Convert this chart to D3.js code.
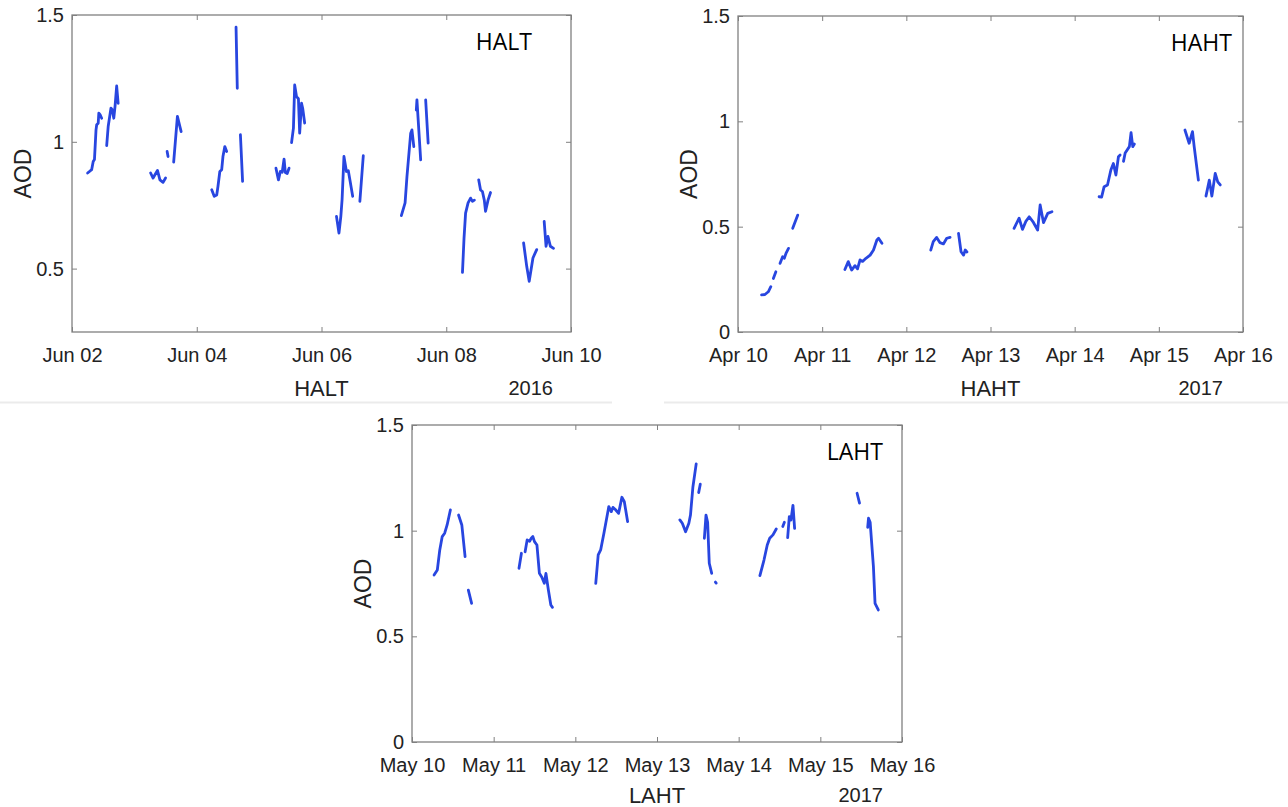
<!DOCTYPE html>
<html>
<head>
<meta charset="utf-8">
<script src="https://cdn.jsdelivr.net/npm/d3@7"></script>
<style>
  html, body { margin: 0; padding: 0; background: #fff; }
  svg { display: block; }
  .tick text { font-family: "Liberation Sans", Arial, sans-serif; font-size: 20px; fill: #222; }
  .tick line { stroke: #808080; }
</style>
</head>
<body>
<div id="chart"></div>
<script>
// AOD readings, day-of-month (with fraction) and value; each inner array is one unbroken run
const haltSegments = [
  [[2.25,0.877],[2.28,0.883],[2.315,0.89],[2.34,0.922],[2.36,0.93],[2.385,1.047],[2.396,1.067],[2.42,1.073],[2.43,1.113],[2.45,1.107],[2.476,1.093]],
  [[2.556,0.985],[2.58,1.06],[2.625,1.133],[2.646,1.126],[2.67,1.093],[2.69,1.14],[2.716,1.22],[2.74,1.152]],
  [[3.26,0.877],[3.30,0.857],[3.33,0.87],[3.37,0.887],[3.41,0.85],[3.46,0.84],[3.50,0.857]],
  [[3.525,0.962],[3.54,0.942]],
  [[3.63,0.92],[3.69,1.10],[3.73,1.06],[3.75,1.04]],
  [[4.24,0.811],[4.28,0.785],[4.32,0.79],[4.34,0.824],[4.37,0.883],[4.40,0.89],[4.42,0.942],[4.45,0.981],[4.48,0.962]],
  [[4.63,1.452],[4.65,1.211]],
  [[4.70,1.028],[4.735,0.844]],
  [[5.27,0.896],[5.31,0.85],[5.34,0.883],[5.37,0.88],[5.40,0.932],[5.42,0.879],[5.45,0.875],[5.48,0.896]],
  [[5.52,0.997],[5.55,1.054],[5.57,1.224],[5.60,1.178],[5.63,1.17],[5.65,1.034],[5.68,1.152],[5.70,1.13],[5.73,1.074]],
  [[6.24,0.706],[6.28,0.64],[6.31,0.706],[6.33,0.772],[6.36,0.942],[6.40,0.883],[6.43,0.886],[6.455,0.85],[6.50,0.785]],
  [[6.615,0.765],[6.67,0.945]],
  [[7.28,0.709],[7.34,0.759],[7.37,0.863],[7.43,1.034],[7.45,1.047],[7.48,0.981]],
  [[7.52,1.125],[7.53,1.165],[7.59,0.929]],
  [[7.67,1.165],[7.71,0.995]],
  [[8.26,0.485],[8.285,0.62],[8.31,0.719],[8.35,0.759],[8.39,0.778],[8.42,0.765],[8.45,0.77]],
  [[8.52,0.85],[8.55,0.81],[8.58,0.804],[8.61,0.77],[8.63,0.726],[8.67,0.77],[8.71,0.80]],
  [[9.24,0.601],[9.29,0.509],[9.33,0.45],[9.39,0.542],[9.45,0.575]],
  [[9.57,0.686],[9.60,0.588],[9.63,0.627],[9.67,0.588],[9.72,0.58]]
];

const hahtSegments = [
  [[10.28,0.176],[10.32,0.178],[10.36,0.191],[10.39,0.215]],
  [[10.42,0.254],[10.45,0.286]],
  [[10.50,0.326],[10.53,0.357],[10.55,0.35],[10.57,0.373],[10.60,0.397]],
  [[10.65,0.492],[10.71,0.555]],
  [[11.27,0.297],[11.31,0.334],[11.35,0.294],[11.39,0.315],[11.42,0.30],[11.45,0.342],[11.48,0.335],[11.52,0.35],[11.57,0.365],[11.61,0.389],[11.65,0.437],[11.67,0.445],[11.71,0.421]],
  [[12.29,0.389],[12.32,0.429],[12.36,0.449],[12.40,0.424],[12.44,0.418],[12.48,0.445],[12.52,0.449]],
  [[12.62,0.468],[12.65,0.381],[12.68,0.365],[12.70,0.389],[12.72,0.38]],
  [[13.28,0.492],[13.34,0.54],[13.38,0.487],[13.42,0.525],[13.46,0.547],[13.51,0.52],[13.56,0.484],[13.59,0.603],[13.63,0.519],[13.68,0.563],[13.73,0.571]],
  [[14.29,0.642],[14.32,0.64],[14.35,0.69],[14.39,0.698],[14.43,0.769],[14.46,0.80],[14.49,0.745],[14.52,0.832],[14.54,0.84]],
  [[14.58,0.81],[14.60,0.85],[14.65,0.88],[14.67,0.946],[14.69,0.88],[14.71,0.892]],
  [[15.31,0.959],[15.36,0.896],[15.40,0.951],[15.42,0.88],[15.47,0.721]],
  [[15.56,0.645],[15.60,0.721],[15.63,0.645],[15.67,0.753],[15.70,0.713],[15.73,0.698]]
];

const lahtSegments = [
  [[10.27,0.79],[10.31,0.814],[10.34,0.909],[10.37,0.972],[10.40,0.988],[10.43,1.027],[10.47,1.098]],
  [[10.57,1.074],[10.61,1.027],[10.65,0.877]],
  [[10.69,0.719],[10.73,0.656]],
  [[11.31,0.822],[11.34,0.893]],
  [[11.385,0.90],[11.41,0.956],[11.44,0.95],[11.46,0.964],[11.48,0.972],[11.50,0.948],[11.53,0.932],[11.56,0.798],[11.59,0.78],[11.62,0.751],[11.64,0.798],[11.67,0.719],[11.70,0.648],[11.72,0.637]],
  [[12.25,0.751],[12.28,0.885],[12.31,0.909],[12.35,0.988],[12.41,1.114],[12.44,1.09],[12.46,1.11],[12.49,1.10],[12.53,1.082],[12.57,1.158],[12.60,1.137],[12.64,1.043]],
  [[13.28,1.051],[13.31,1.035],[13.35,0.995],[13.39,1.035],[13.41,1.074],[13.44,1.208],[13.48,1.316]],
  [[13.51,1.18],[13.53,1.22]],
  [[13.58,0.964],[13.60,1.074],[13.62,1.04],[13.64,0.846],[13.67,0.798]],
  [[13.715,0.757],[13.725,0.752]],
  [[14.26,0.787],[14.31,0.861],[14.35,0.932],[14.38,0.964],[14.42,0.98],[14.46,1.008]],
  [[14.54,1.02],[14.56,1.04]],
  [[14.60,0.967],[14.62,1.066],[14.64,1.05],[14.665,1.12],[14.685,1.011]],
  [[15.45,1.177],[15.48,1.13]],
  [[15.58,1.016],[15.59,1.059],[15.61,1.04],[15.65,0.83],[15.67,0.656],[15.71,0.625]]
];

// tick days (day of month) and AOD tick values
const haltTickDays = [2, 4, 6, 8, 10];
const hahtTickDays = [10, 11, 12, 13, 14, 15, 16];
const lahtTickDays = [10, 11, 12, 13, 14, 15, 16];
const haltYTicks = [0.5, 1, 1.5];
const hahtYTicks = [0, 0.5, 1, 1.5];
const lahtYTicks = [0, 0.5, 1, 1.5];

const panels = [
  { name: "HALT", year: 2016, month: 5, segs: haltSegments, xTicks: haltTickDays, yTicks: haltYTicks,
    yDomain: [0.25, 1.5], left: 72, top: 15, right: 571, bottom: 332, tagRight: 532, yearGap: 18 },
  { name: "HAHT", year: 2017, month: 3, segs: hahtSegments, xTicks: hahtTickDays, yTicks: hahtYTicks,
    yDomain: [0, 1.5], left: 738, top: 16, right: 1243, bottom: 332, tagRight: 1232, yearGap: 20 },
  { name: "LAHT", year: 2017, month: 4, segs: lahtSegments, xTicks: lahtTickDays, yTicks: lahtYTicks,
    yDomain: [0, 1.5], left: 412, top: 425, right: 902, bottom: 742, tagRight: 883, yearGap: 19 }
];

const W = 1288, H = 807;
const axisFont = '"Liberation Sans", Arial, sans-serif';
const lineColor = "#2846e0";
const boxColor = "#808080";

const svg = d3.select("#chart").append("svg")
  .attr("width", W)
  .attr("height", H)
  .style("background", "#fff");

// faint rules left over under the top two pictures
svg.append("line").attr("x1", 0).attr("x2", 612).attr("y1", 402.5).attr("y2", 402.5)
  .attr("stroke", "#ebebeb").attr("stroke-width", 2);
svg.append("line").attr("x1", 664).attr("x2", W).attr("y1", 402.5).attr("y2", 402.5)
  .attr("stroke", "#ebebeb").attr("stroke-width", 2);

panels.forEach(p => {
  const toDate = d => new Date(Date.UTC(p.year, p.month, 0) + d * 864e5);

  const x = d3.scaleUtc()
    .domain([toDate(p.xTicks[0]), toDate(p.xTicks[p.xTicks.length - 1])])
    .range([p.left, p.right]);
  const y = d3.scaleLinear().domain(p.yDomain).range([p.bottom, p.top]);

  const g = svg.append("g");
  const tickDates = p.xTicks.map(toDate);

  const gx = g.append("g").attr("transform", `translate(0,${p.bottom})`)
    .call(d3.axisBottom(x).tickValues(tickDates).tickFormat(d3.utcFormat("%b %d"))
      .tickSize(-5).tickSizeOuter(0).tickPadding(16));
  const gxt = g.append("g").attr("transform", `translate(0,${p.top})`)
    .call(d3.axisTop(x).tickValues(tickDates).tickFormat("").tickSize(-5).tickSizeOuter(0));
  const gy = g.append("g").attr("transform", `translate(${p.left},0)`)
    .call(d3.axisLeft(y).tickValues(p.yTicks).tickFormat(d3.format("~g"))
      .tickSize(-5).tickSizeOuter(0).tickPadding(8));
  const gyr = g.append("g").attr("transform", `translate(${p.right},0)`)
    .call(d3.axisRight(y).tickValues(p.yTicks).tickFormat("").tickSize(-5).tickSizeOuter(0));

  [gx, gxt, gy, gyr].forEach(a => a.select(".domain").remove());

  g.append("rect")
    .attr("x", p.left).attr("y", p.top)
    .attr("width", p.right - p.left).attr("height", p.bottom - p.top)
    .attr("fill", "none").attr("stroke", boxColor).attr("stroke-width", 1.3);

  const line = d3.line()
    .x(d => x(toDate(d[0])))
    .y(d => y(d[1]));

  g.append("g").selectAll("path")
    .data(p.segs)
    .join("path")
    .attr("d", line)
    .attr("fill", "none")
    .attr("stroke", lineColor)
    .attr("stroke-width", 2.8)
    .attr("stroke-linejoin", "round")
    .attr("stroke-linecap", "round");

  const midY = (p.top + p.bottom) / 2;
  g.append("text")
    .attr("transform", `translate(${p.left - 49},${midY}) rotate(-90)`)
    .attr("text-anchor", "middle").attr("dy", "0.35em")
    .style("font-family", axisFont).style("font-size", "23px").style("fill", "#222")
    .text("AOD");

  // bottom captions; the lower panel sits so close to the edge that they are pulled up a little
  const capY = Math.min(p.bottom + 64, H - 4);
  g.append("text")
    .attr("x", (p.left + p.right) / 2).attr("y", capY)
    .attr("text-anchor", "middle")
    .style("font-family", axisFont).style("font-size", "22px").style("fill", "#222")
    .text(p.name);

  g.append("text")
    .attr("x", p.right - p.yearGap).attr("y", capY - 1)
    .attr("text-anchor", "end")
    .style("font-family", axisFont).style("font-size", "20px").style("fill", "#222")
    .text(String(p.year));

  g.append("text")
    .attr("x", p.tagRight).attr("y", p.top + 35)
    .attr("text-anchor", "end")
    .style("font-family", '"Open Sans", "Noto Sans", sans-serif').style("font-size", "23px").style("fill", "#000")
    .text(p.name);
});
</script>
</body>
</html>
